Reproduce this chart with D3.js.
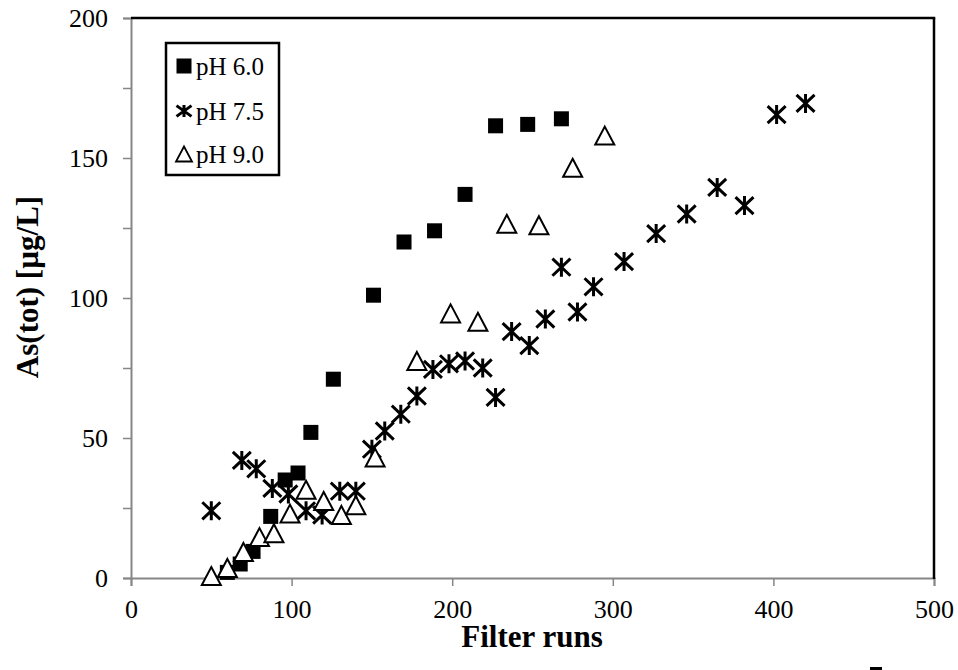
<!DOCTYPE html>
<html><head><meta charset="utf-8">
<script src="https://cdn.jsdelivr.net/npm/d3@7"></script>
<style>
body{margin:0;background:#fff;}
svg{display:block;}
text{font-family:"Liberation Serif","Times New Roman",serif;fill:#000;}
</style></head><body>
<svg id="chart" width="958" height="670"></svg>
<script>
// ---- data ----
const seriesNames = ["pH 6.0", "pH 7.5", "pH 9.0"];
const ph60 = [[60,2],[68,5],[76,9.5],[87,22],[96,35],[104,37.5],[112,52],[126,71],[151,101],[170,120],[189,124],[208,137],[227,161.5],[247,162],[268,164]];
const ph75 = [[50,24],[69,42],[78,39],[88,32],[98,30],[109,24],[119,22.5],[130,31],[140,31],[150,46],[158,52.5],[168,58.5],[178,65],[188,74.5],[198,76.5],[208,77.5],[219,75],[227,64.5],[237,88],[248,83],[258,92.5],[268,111],[278,95],[288,104],[307,113],[327,123],[346,130],[365,139.5],[382,133],[402,165.5],[420,169.5]];
const ph90 = [[50,0.7],[60,3.6],[70,9.3],[80,14.6],[89,16],[99,23],[109,31.5],[120,27.5],[131,22.5],[140,26],[152,43],[178,77.5],[199,94.5],[216,91.5],[234,126.5],[254,126],[275,146.5],[295,158]];
const xTicks = [0,100,200,300,400,500];
const yTicks = [0,25,50,75,100,125,150,175,200];
const yLabels = [0,50,100,150,200];
const xTitle = "Filter runs";
const yTitle = "As(tot) [µg/L]";

// ---- layout ----
const svg = d3.select("#chart");
const L = 131, R = 934, T = 18, B = 578;
const x = d3.scaleLinear().domain([0,500]).range([L,R]);
const y = d3.scaleLinear().domain([0,200]).range([B,T]);
const gray = "#868686";

// x axis
const xAxis = d3.axisBottom(x).tickValues(xTicks).tickSize(8).tickFormat(d3.format("d"));
const gx = svg.append("g").attr("transform",`translate(0,${B})`).call(xAxis);
gx.select(".domain").attr("stroke",gray).attr("stroke-width",2);
gx.selectAll(".tick line").attr("stroke",gray).attr("stroke-width",1.5);
gx.selectAll(".tick text").attr("font-size",26).attr("font-family","Liberation Serif").attr("dy",0).attr("y",40);

// y axis
const yAxis = d3.axisLeft(y).tickValues(yTicks).tickSize(8).tickFormat(d => yLabels.includes(d) ? d : "");
const gy = svg.append("g").attr("transform",`translate(${L},0)`).call(yAxis);
gy.select(".domain").attr("stroke",gray).attr("stroke-width",2);
gy.selectAll(".tick line").attr("stroke",gray).attr("stroke-width",1.5);
gy.selectAll(".tick text").attr("font-size",26).attr("font-family","Liberation Serif").attr("x",-23).attr("dy","0.34em");

// top & right frame
svg.append("line").attr("x1",L).attr("x2",R+1.25).attr("y1",T).attr("y2",T).attr("stroke","#000").attr("stroke-width",2.5);
svg.append("line").attr("x1",R).attr("x2",R).attr("y1",T).attr("y2",B+1).attr("stroke","#000").attr("stroke-width",2.5);

// markers
const starPath = (h,w) => `M0,${-h}L0,${h}M${-w},${-h*0.9}L${w},${h*0.9}M${-w},${h*0.9}L${w},${-h*0.9}`;
const triPath = (w,h) => `M0,${-h/2}L${w/2},${h/2}L${-w/2},${h/2}Z`;

svg.append("g").selectAll("rect").data(ph60).join("rect")
  .attr("x",d=>x(d[0])-7.5).attr("y",d=>y(d[1])-7.5).attr("width",15).attr("height",15).attr("fill","#000");
svg.append("g").selectAll("path").data(ph75).join("path")
  .attr("transform",d=>`translate(${x(d[0])},${y(d[1])})`)
  .attr("d",starPath(9.5,9)).attr("stroke","#000").attr("stroke-width",3).attr("fill","none");
svg.append("g").selectAll("path").data(ph90).join("path")
  .attr("transform",d=>`translate(${x(d[0])},${y(d[1])})`)
  .attr("d",triPath(19,18)).attr("stroke","#000").attr("stroke-width",2).attr("fill","#fff");

// legend
const lg = svg.append("g");
lg.append("rect").attr("x",166).attr("y",43).attr("width",113).attr("height",132).attr("fill","#fff").attr("stroke","#000").attr("stroke-width",2.5);
const ly = [66,111,154];
lg.append("rect").attr("x",184-7.5).attr("y",ly[0]-7.5).attr("width",15).attr("height",15).attr("fill","#000");
lg.append("path").attr("transform",`translate(184,${ly[1]})`).attr("d",starPath(6,7.5)).attr("stroke","#000").attr("stroke-width",3).attr("fill","none");
lg.append("path").attr("transform",`translate(184,${ly[2]})`).attr("d",triPath(16,15)).attr("stroke","#000").attr("stroke-width",1.8).attr("fill","#fff");
seriesNames.forEach((n,i)=>{
  lg.append("text").attr("x",196).attr("y",ly[i]+8.5).attr("font-size",25).text(n);
});

// axis titles
svg.append("text").attr("x",532).attr("y",647).attr("text-anchor","middle").attr("font-size",31).attr("font-weight","bold").text(xTitle);
svg.append("text").attr("transform","translate(38,287) rotate(-90)").attr("text-anchor","middle").attr("font-size",31).attr("font-weight","bold").text(yTitle);

// small cropped fragment at bottom right
svg.append("rect").attr("x",870).attr("y",667).attr("width",12).attr("height",3).attr("fill","#000");
</script>
</body></html>
